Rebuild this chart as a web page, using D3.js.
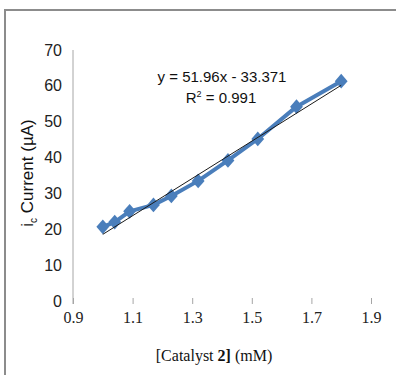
<!DOCTYPE html>
<html>
<head>
<meta charset="utf-8">
<script src="https://cdn.jsdelivr.net/npm/d3@7"></script>
<style>
  html, body { margin: 0; padding: 0; background: #fff; }
  svg { display: block; }
</style>
</head>
<body>
<svg id="chart" width="396" height="375"></svg>
<script>
// Catalyst concentration (mM) and measured catalytic current (µA)
const concentration = [1.00, 1.04, 1.09, 1.17, 1.23, 1.32, 1.42, 1.52, 1.65, 1.80];
const current = [20.7, 22.0, 25.0, 26.8, 29.3, 33.5, 39.2, 45.2, 54.2, 61.3];

// Axis ticks
const xTicks = [0.9, 1.1, 1.3, 1.5, 1.7, 1.9];
const yTicks = [0, 10, 20, 30, 40, 50, 60, 70];

// Linear fit reported on the chart
const fitSlope = 51.96;
const fitIntercept = -33.371;
const fitR2 = 0.991;

const svg = d3.select("#chart");
const sans = "'Liberation Sans Narrow', 'Arial Narrow', 'Liberation Sans', sans-serif";
const serif = "'Liberation Serif', 'DejaVu Serif', serif";

// Outer chart frame
svg.append("rect")
  .attr("x", 5).attr("y", 10)
  .attr("width", 400).attr("height", 380)
  .attr("fill", "none")
  .attr("stroke", "#8c8c8c")
  .attr("stroke-width", 2);

const x = d3.scaleLinear().domain([0.9, 1.9]).range([73, 371]);
const y = d3.scaleLinear().domain([0, 70]).range([301, 50]);

// Y axis: line with labels, no tick marks
const yAxis = d3.axisLeft(y).tickValues(yTicks).tickSize(0).tickPadding(11).tickFormat(d3.format("d"));
const gy = svg.append("g").attr("transform", `translate(${x(0.9)},0)`).call(yAxis);
gy.select(".domain").attr("stroke", "#a6a6a6").attr("d", `M0,${y(70)}V${y(0) + 3}`);
gy.selectAll("text")
  .attr("font-family", sans)
  .attr("font-size", 16)
  .attr("fill", "#222");

// X axis: tick marks and labels only
const xAxis = d3.axisBottom(x).tickValues(xTicks).tickSize(6).tickPadding(8).tickFormat(d3.format(".1f"));
const gx = svg.append("g").attr("transform", `translate(0,${y(0) - 3})`).call(xAxis);
gx.select(".domain").remove();
gx.selectAll(".tick line").attr("stroke", "#a6a6a6");
gx.selectAll("text")
  .attr("font-family", serif)
  .attr("font-size", 16)
  .attr("fill", "#222");

// Axis titles
const xt = svg.append("text")
  .attr("x", 214).attr("y", 361)
  .attr("text-anchor", "middle")
  .attr("font-family", serif)
  .attr("font-size", 16)
  .attr("fill", "#111");
xt.append("tspan").text("[Catalyst ");
xt.append("tspan").attr("font-weight", "bold").text("2]");
xt.append("tspan").text(" (mM)");

const yt = svg.append("text")
  .attr("transform", "translate(33,173) rotate(-90)")
  .attr("text-anchor", "middle")
  .attr("font-family", sans)
  .attr("font-size", 17)
  .attr("fill", "#111");
yt.append("tspan").text("i");
yt.append("tspan").attr("font-size", 10).attr("dy", 4).text("c");
yt.append("tspan").attr("dy", -4).text(" Current (µA)");

// Data series
const pts = concentration.map((c, i) => [c, current[i]]);
svg.append("path")
  .datum(pts)
  .attr("fill", "none")
  .attr("stroke", "#4a7ebb")
  .attr("stroke-width", 4)
  .attr("stroke-linejoin", "round")
  .attr("d", d3.line().x(d => x(d[0])).y(d => y(d[1])));

svg.append("g").selectAll("path")
  .data(pts)
  .join("path")
  .attr("transform", d => `translate(${x(d[0])},${y(d[1])}) scale(1,1.15) rotate(45)`)
  .attr("d", d3.symbol(d3.symbolSquare, 82))
  .attr("fill", "#4a7ebb");

// Linear trendline across the measured range
const xr = d3.extent(concentration);
svg.append("line")
  .attr("x1", x(xr[0])).attr("y1", y(fitSlope * xr[0] + fitIntercept))
  .attr("x2", x(xr[1])).attr("y2", y(fitSlope * xr[1] + fitIntercept))
  .attr("stroke", "#1a1a1a")
  .attr("stroke-width", 1);

// Fit equation
const eq = svg.append("g")
  .attr("font-family", sans)
  .attr("font-size", 15)
  .attr("fill", "#111")
  .attr("text-anchor", "middle");
eq.append("text").attr("x", 222).attr("y", 82)
  .text(`y = ${fitSlope}x - ${Math.abs(fitIntercept)}`);
const r = eq.append("text").attr("x", 221).attr("y", 103);
r.append("tspan").text("R");
r.append("tspan").attr("font-size", 9).attr("dy", -6).text("2");
r.append("tspan").attr("dy", 6).text(` = ${fitR2}`);
</script>
</body>
</html>
